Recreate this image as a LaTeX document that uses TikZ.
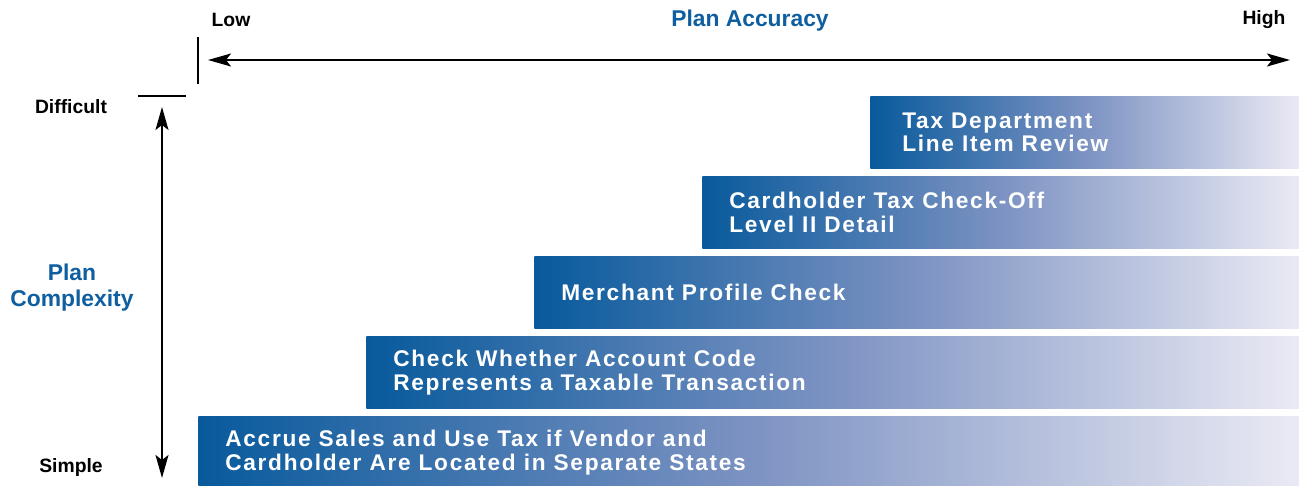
\documentclass[tikz,border=0pt]{standalone}
\usepackage{fontspec}
\setmainfont{Liberation Sans}
\newfontfamily\barfont[LetterSpace=7.5]{Liberation Sans}
\usetikzlibrary{positioning,arrows.meta,calc}
\definecolor{planblue}{RGB}{14,94,160}
\definecolor{barleft}{RGB}{8,90,156}
\definecolor{barmid}{RGB}{124,146,194}
\definecolor{barright}{RGB}{234,234,244}
\tikzset{
  bar/.style={inner sep=0pt, minimum height=1.44cm, anchor=north west,
    left color=barleft, right color=barright, middle color=barmid},
  bartext/.style={anchor=west, align=left, text=white, inner sep=0pt,
    font=\barfont\bfseries\fontsize{12.9}{13.6}\selectfont},
  axislabel/.style={font=\bfseries\fontsize{11}{12}\selectfont},
  planlabel/.style={text=planblue, align=center,
    font=\bfseries\fontsize{13}{14.7}\selectfont},
  axis/.style={line width=1.1pt},
  >={Stealth[length=0.46cm,width=0.26cm,inset=0.1cm]}
}

\begin{document}
\begin{tikzpicture}[x=0.02cm,y=-0.02cm]
  \useasboundingbox (0,0) rectangle (1299,486);

  % accuracy axis
  \node[axislabel] (low) at (231,20) {Low};
  \node[axislabel] (high) at (1264,20) {High};
  \node[planlabel] (accuracy) at (750,21) {Plan Accuracy};
  \coordinate (tick-top) at (198,37);
  \coordinate (tick-bot) at (198,84);
  \coordinate (acc-left) at (208,60);
  \coordinate (acc-right) at (1290,60);
  \draw[axis] (tick-top) -- (tick-bot);
  \draw[axis, <->] (acc-left) -- (acc-right);

  % complexity axis
  \node[axislabel] (difficult) at (71,107) {Difficult};
  \node[axislabel] (simple) at (71,468) {Simple};
  \node[planlabel] (complexity) at (72,288) {Plan\\Complexity};
  \coordinate (dtick-left) at (138,96);
  \coordinate (dtick-right) at (186,96);
  \coordinate (cx-top) at (162,107);
  \coordinate (cx-bot) at (162,478);
  \draw[axis] (dtick-left) -- (dtick-right);
  \draw[axis, <->] (cx-top) -- (cx-bot);

  % bars
  \node[bar, minimum width=8.58cm] (dept) at (870,96) {};
  \node[bar, minimum width=11.94cm] (checkoff) at (702,176) {};
  \node[bar, minimum width=15.3cm] (profile) at (534,256) {};
  \node[bar, minimum width=18.66cm] (code) at (366,336) {};
  \node[bar, minimum width=22.02cm] (accrue) at (198,416) {};

  \node[bartext] (dept-txt) at ([xshift=0.64cm]dept.west) {Tax Department\\Line Item Review};
  \node[bartext] (checkoff-txt) at ([xshift=0.54cm]checkoff.west) {Cardholder Tax Check-Off\\Level II Detail};
  \node[bartext] (profile-txt) at ([xshift=0.54cm]profile.west) {Merchant Profile Check};
  \node[bartext] (code-txt) at ([xshift=0.54cm]code.west) {Check Whether Account Code\\Represents a Taxable Transaction};
  \node[bartext] (accrue-txt) at ([xshift=0.54cm]accrue.west) {Accrue Sales and Use Tax if Vendor and\\Cardholder Are Located in Separate States};
\end{tikzpicture}
\end{document}
